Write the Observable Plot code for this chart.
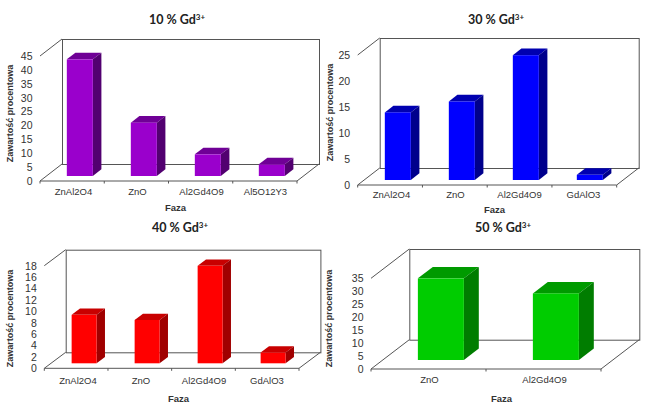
<!DOCTYPE html>
<html lang="pl">
<head>
<meta charset="utf-8">
<script src="https://cdn.jsdelivr.net/npm/d3@7"></script>
<script src="https://cdn.jsdelivr.net/npm/@observablehq/plot@0.6"></script>
<style>
html,body{margin:0;padding:0;background:#fff;}
#page{position:relative;width:652px;height:408px;overflow:hidden;}
.panel{position:absolute;}
.panel svg{display:block;overflow:visible;background:transparent;}
.ttl{position:absolute;transform:translate(-50%,-50%);font:bold 12.5px Lato,sans-serif;color:#222;white-space:nowrap;}
.ttl sup{font-size:8px;line-height:0;vertical-align:baseline;position:relative;top:-4.5px;}
</style>
</head>
<body>
<div id="page"></div>
<script>
const titles = ["10 % Gd", "30 % Gd", "40 % Gd", "50 % Gd"];
const titleSup = "3+";
const xLabel = "Faza";
const yLabel = "Zawartość procentowa";

const cats10 = ["ZnAl2O4", "ZnO", "Al2Gd4O9", "Al5O12Y3"];
const vals10 = [42, 19.2, 7.8, 4.2];
const ticks10 = [0, 5, 10, 15, 20, 25, 30, 35, 40, 45];

const cats30 = ["ZnAl2O4", "ZnO", "Al2Gd4O9", "GdAlO3"];
const vals30 = [13, 15.1, 24, 1];
const ticks30 = [0, 5, 10, 15, 20, 25];

const cats40 = ["ZnAl2O4", "ZnO", "Al2Gd4O9", "GdAlO3"];
const vals40 = [8.5, 7.6, 17.1, 1.9];
const ticks40 = [0, 2, 4, 6, 8, 10, 12, 14, 16, 18];

const cats50 = ["ZnO", "Al2Gd4O9"];
const vals50 = [31.5, 25.7];
const ticks50 = [0, 5, 10, 15, 20, 25, 30, 35];

const lineColor = "#555";
const textColor = "#333";
const fontFamily = "'Liberation Sans', Arial, sans-serif";

function panel(o) {
  const data = o.cats.map((c, i) => ({c, v: o.vals[i]}));
  const [ddx, ddy] = o.depth;                 // wall offset in pixels
  const shx = ddx * 0.31;                     // bar offset from the front plane
  const bdx = ddx * 0.39, bdy = ddy * 0.39;   // bar depth

  const wire = (index, scales, values, dim) => {
    const L = dim.marginLeft, R = dim.width - dim.marginRight;
    const T = dim.marginTop, B = dim.height - dim.marginBottom;
    const g = d3.create("svg:g").attr("stroke", lineColor).attr("fill", "none");
    const segs = [
      [L, T, L + ddx, T + ddy],
      [L, B, L + ddx, B + ddy],
      [R, B, R + ddx, B + ddy],
      [L, B, R, B]
    ];
    const n = o.cats.length;
    for (let i = 0; i <= n; ++i) {
      const x = L + (R - L) * i / n;
      segs.push([x, B, x, B + 2.5]);
    }
    for (const [x1, y1, x2, y2] of segs) {
      g.append("line").attr("x1", x1).attr("y1", y1).attr("x2", x2).attr("y2", y2);
    }
    return g.node();
  };

  const bars = Plot.barY(data, {
    x: "c", y: "v", fill: o.colors[0],
    render(index, scales, values, dim, ctx, next) {
      const g = d3.create("svg:g");
      const w = scales.x.bandwidth();
      const yb = scales.y(0) - o.bottomLift;
      for (const i of index) {
        const x0 = scales.x(data[i].c) + shx, x1 = x0 + w;
        const yt = scales.y(data[i].v) - o.bottomLift;
        g.append("path").attr("fill", o.colors[1]).attr("d",
          `M${x0},${yt}L${x0 + bdx},${yt + bdy}L${x1 + bdx},${yt + bdy}L${x1},${yt}Z`);
        g.append("path").attr("fill", o.colors[2]).attr("d",
          `M${x1},${yt}L${x1 + bdx},${yt + bdy}L${x1 + bdx},${yb + bdy}L${x1},${yb}Z`);
      }
      const front = next(index, scales, values, dim, ctx);
      front.setAttribute("transform", `translate(${shx},${-o.bottomLift})`);
      g.node().appendChild(front);
      return g.node();
    }
  });

  const midY = o.oy + (o.top + o.bottom) / 2;
  const midX = o.ox + (o.left + o.right) / 2;

  const chart = Plot.plot({
    width: o.width, height: o.height,
    marginLeft: o.left, marginRight: o.width - o.right,
    marginTop: o.top, marginBottom: o.height - o.bottom,
    style: {background: "transparent", fontFamily, fontSize: "10px", color: textColor},
    x: {domain: o.cats, paddingInner: 0.6, paddingOuter: 0.3, label: null},
    y: {domain: [0, o.ticks[o.ticks.length - 1]], label: null},
    marks: [
      Plot.frame({stroke: lineColor, dx: ddx, dy: ddy}),
      wire,
      bars,
      Plot.axisX({tickSize: 0, tickPadding: o.xPad, label: null, fill: textColor, fontSize: 9.5}),
      Plot.axisY({ticks: o.ticks, tickSize: 0, tickPadding: 8, label: null, fill: textColor, fontSize: 10.5}),
      Plot.text([xLabel], {frameAnchor: "bottom", lineAnchor: "middle", text: d => d,
        dx: o.xLab[0] - midX, dy: o.xLab[1] - (o.oy + o.bottom),
        fontWeight: "bold", fontSize: 9.5, fill: textColor}),
      Plot.text([yLabel], {frameAnchor: "left", lineAnchor: "middle", textAnchor: "middle", rotate: -90, text: d => d,
        dx: o.yLab[0] - (o.ox + o.left), dy: o.yLab[1] - midY,
        fontWeight: "bold", fontSize: 9, fill: textColor})
    ]
  });
  const div = document.createElement("div");
  div.className = "panel";
  div.style.left = o.ox + "px";
  div.style.top = o.oy + "px";
  div.appendChild(chart);
  document.getElementById("page").appendChild(div);

  const t = document.createElement("div");
  t.className = "ttl";
  t.style.left = o.tx + "px";
  t.style.top = o.ty + "px";
  t.appendChild(document.createTextNode(o.title));
  const s = document.createElement("sup");
  s.textContent = titleSup;
  t.appendChild(s);
  document.getElementById("page").appendChild(t);
}

panel({cats: cats10, vals: vals10, ticks: ticks10, title: titles[0],
  colors: ["#9A00CC", "#6F0096", "#520070"],
  ox: 0, oy: 0, width: 320, height: 214, left: 40, right: 297, top: 56, bottom: 181, bottomLift: 5,
  depth: [22, -17], xPad: 7, xLab: [175, 207], yLab: [9.5, 113], tx: 177, ty: 19});

panel({cats: cats30, vals: vals30, ticks: ticks30, title: titles[1],
  colors: ["#0000FF", "#0000B0", "#00008C"],
  ox: 318, oy: 0, width: 334, height: 214, left: 39.7, right: 298.7, top: 55, bottom: 185, bottomLift: 5,
  depth: [22, -17], xPad: 6, xLab: [494, 209], yLab: [330, 112], tx: 496, ty: 19});

panel({cats: cats40, vals: vals40, ticks: ticks40, title: titles[2],
  colors: ["#FF0000", "#C80000", "#A00000"],
  ox: 0, oy: 214, width: 320, height: 194, left: 44.3, right: 299, top: 51.7, bottom: 154.3, bottomLift: 5,
  depth: [21.4, -16], xPad: 8, xLab: [178, 398], yLab: [9.5, 318], tx: 180, ty: 227});

panel({cats: cats50, vals: vals50, ticks: ticks50, title: titles[3],
  colors: ["#00CC00", "#009A00", "#007D00"],
  ox: 318, oy: 214, width: 334, height: 194, left: 53, right: 283, top: 64.3, bottom: 155, bottomLift: 9,
  depth: [38.3, -29.3], xPad: 7, xLab: [501, 398], yLab: [329, 318], tx: 503, ty: 227});
</script>
</body>
</html>
